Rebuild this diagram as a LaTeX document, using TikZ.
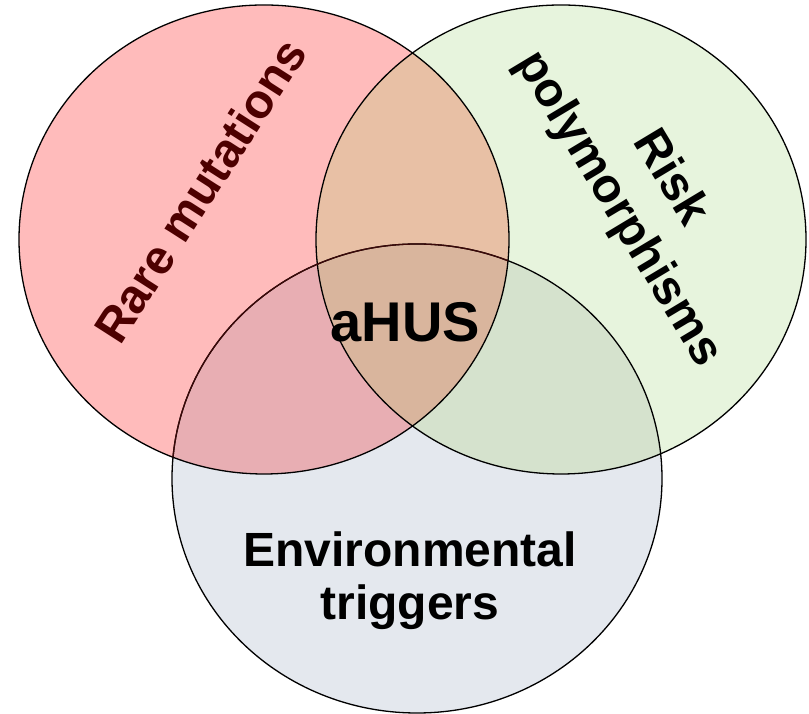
\documentclass[tikz,border=0pt]{standalone}
\usepackage{fontspec}
\setmainfont{Liberation Sans}
\definecolor{redfill}{HTML}{FFBBBB}
\definecolor{greenfill}{HTML}{E7F4DD}
\definecolor{grayfill}{HTML}{E4E8EE}
\definecolor{rgfill}{HTML}{E8C0A5}
\definecolor{rbfill}{HTML}{E8AEB3}
\definecolor{gbfill}{HTML}{D5E2CD}
\definecolor{rgbfill}{HTML}{D9B59D}
\definecolor{labelred}{HTML}{4D0000}
\definecolor{edgered}{HTML}{3C0808}
\begin{document}
\begin{tikzpicture}[x=1pt,y=1pt,
  set/.style={x radius=245pt, y radius=234.5pt},
  edge/.style={draw=black, line width=1.3pt},
  lbl/.style={font=\bfseries\fontsize{48}{53}\selectfont, align=center, inner sep=0pt}]
\useasboundingbox (0,0) rectangle (809,714);
\coordinate (cR) at (264,474.5);
\coordinate (cG) at (561,474.5);
\coordinate (cB) at (417,235.5);
% base fills
\fill[redfill] (cR) ellipse [set];
\fill[greenfill] (cG) ellipse [set];
\fill[grayfill] (cB) ellipse [set];
% green & gray
\begin{scope}
  \clip (cG) ellipse [set];
  \fill[gbfill] (cB) ellipse [set];
\end{scope}
% red overlaps
\begin{scope}
  \clip (cR) ellipse [set];
  \fill[rgfill] (cG) ellipse [set];
  \fill[rbfill] (cB) ellipse [set];
  \clip (cG) ellipse [set];
  \fill[rgbfill] (cB) ellipse [set];
\end{scope}
% outlines
\draw[edge] (cR) ellipse [set];
\draw[edge] (cG) ellipse [set];
\draw[edge] (cB) ellipse [set];
\begin{scope}
  \clip (cR) ellipse [set];
  \draw[edge, draw=edgered] (cB) ellipse [set];
\end{scope}
% labels
\node[lbl, text=labelred, rotate=57.3] (rare) at (200,523.5) {Rare mutations};
\node[lbl, rotate=-59, font=\bfseries\fontsize{48}{60}\selectfont] (risk) at (643.7,519.9) {Risk\\polymorphisms};
\node[lbl] (env) at (410,133) {Environmental\\triggers};
\node[lbl, anchor=base, font=\bfseries\fontsize{56}{60}\selectfont] (ahus) at (405.5,372) {aHUS};
\end{tikzpicture}
\end{document}
